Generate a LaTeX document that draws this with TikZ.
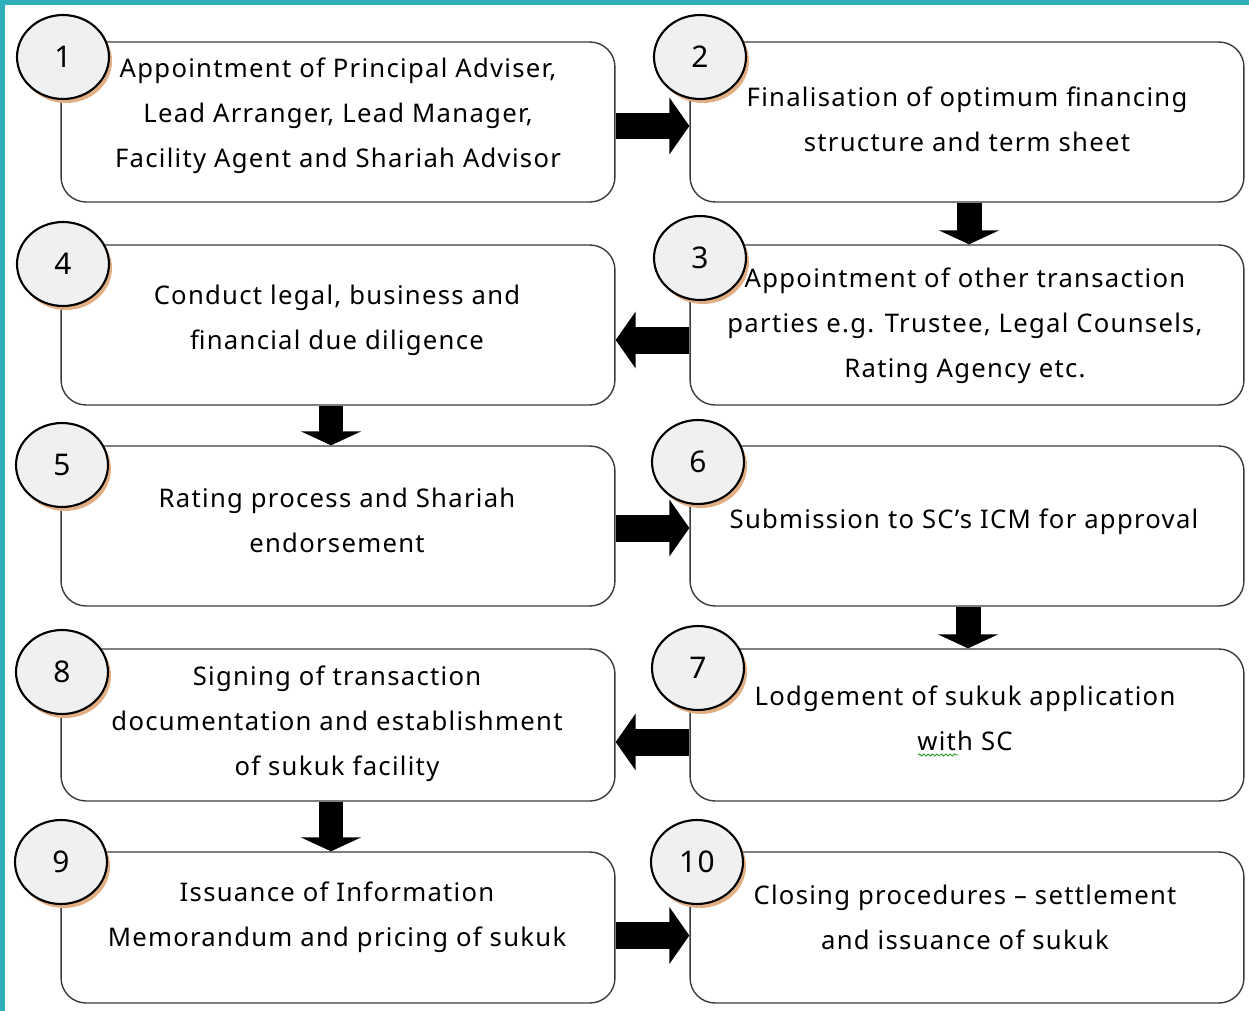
\documentclass[tikz,border=0pt]{standalone}
\usepackage{fontspec}
\setmainfont{Noto Sans}[LetterSpace=5]
\usepackage{tikz}
\usetikzlibrary{calc,arrows.meta,shapes.geometric,shadows,decorations.pathmorphing}
\definecolor{frameteal}{HTML}{2EB0BA}
\definecolor{shadowtan}{HTML}{E2AE84}
\definecolor{numfill}{HTML}{F0F0F0}
\definecolor{boxline}{HTML}{3A3A3A}

\begin{document}
\begin{tikzpicture}[x=0.02cm,y=-0.02cm,
    stepbox/.style={draw=boxline,line width=0.8pt,rounded corners=0.5cm,minimum width=11.08cm,minimum height=3.2cm,inner sep=0pt},
    steptext/.style={align=center,inner sep=0pt,font=\fontsize{14.6}{25.6}\selectfont},
    stepnum/.style={ellipse,draw,line width=1.2pt,fill=numfill,minimum width=1.84cm,minimum height=1.68cm,inner sep=0pt,
      font=\fontsize{17}{17}\selectfont,drop shadow={shadow xshift=0.06cm,shadow yshift=-0.08cm,fill=shadowtan,opacity=1}},
    rightarrow/.style={line width=0.54cm,-{Triangle[width=1.12cm,length=0.4cm]}},
    downarrow/.style={line width=0.5cm,-{Triangle[width=1.2cm,length=0.28cm]}}]
  \useasboundingbox (0,0) rectangle (1249,1011);
  % frame
  \fill[frameteal] (0,0) rectangle (1249,5);
  \fill[frameteal] (0,0) rectangle (5,1011);
  % boxes
  \node[stepbox] (b1) at (338,122) {};
  \node[stepbox] (b2) at (967,122) {};
  \node[stepbox] (b4) at (338,325) {};
  \node[stepbox] (b3) at (967,325) {};
  \node[stepbox] (b5) at (338,526) {};
  \node[stepbox] (b6) at (967,526) {};
  \node[stepbox,minimum height=3.04cm] (b8) at (338,725) {};
  \node[stepbox,minimum height=3.04cm] (b7) at (967,725) {};
  \node[stepbox,minimum height=3.02cm] (b9) at (338,927.5) {};
  \node[stepbox,minimum height=3.02cm] (b10) at (967,927.5) {};
  % texts
  \node[steptext] (t1) at (338,116) {Appointment of Principal Adviser,\\Lead Arranger, Lead Manager,\\Facility Agent and Shariah Advisor};
  \node[steptext] (t2) at (967,119) {Finalisation of optimum financing\\structure and term sheet};
  \node[steptext] (t3) at (965,326) {Appointment of other transaction\\parties e.g. Trustee, Legal Counsels,\\Rating Agency etc.};
  \node[steptext] (t4) at (337,320) {Conduct legal, business and\\financial due diligence};
  \node[steptext] (t5) at (337,520) {Rating process and Shariah\\endorsement};
  \node[steptext] (t6) at (964,522) {Submission to SC’s ICM for approval};
  \node[steptext] (t7) at (965,718) {Lodgement of sukuk application\\with SC};
  \node[steptext] (t8) at (337,724) {Signing of transaction\\documentation and establishment\\of sukuk facility};
  \node[steptext] (t9) at (337,917) {Issuance of Information\\Memorandum and pricing of sukuk};
  \node[steptext] (t10) at (965,917) {Closing procedures – settlement\\and issuance of sukuk};
  \draw[green!55!black,line width=0.4pt,decorate,decoration={snake,amplitude=0.6pt,segment length=2.5pt}] (918,755) -- (958,755);
  % arrows
  \draw[rightarrow] ($(b1.east)+(0,4)$) -- ($(b2.west)+(0,4)$);
  \draw[downarrow] ($(b2.south)+(2,0)$) -- ($(b3.north)+(2,0)$);
  \draw[rightarrow] ($(b3.west)+(0,15)$) -- ($(b4.east)+(0,15)$);
  \draw[downarrow] ($(b4.south)+(-7,0)$) -- ($(b5.north)+(-7,0)$);
  \draw[rightarrow] ($(b5.east)+(0,2)$) -- ($(b6.west)+(0,2)$);
  \draw[downarrow] ($(b6.south)+(1,0)$) -- ($(b7.north)+(1,0)$);
  \draw[rightarrow] ($(b7.west)+(0,17)$) -- ($(b8.east)+(0,17)$);
  \draw[downarrow] ($(b8.south)+(-7,0)$) -- ($(b9.north)+(-7,0)$);
  \draw[rightarrow] ($(b9.east)+(0,8)$) -- ($(b10.west)+(0,8)$);
  % numbers
  \node[stepnum] (n1) at (63,57) {1};
  \node[stepnum] (n2) at (700,57) {2};
  \node[stepnum] (n4) at (63,264) {4};
  \node[stepnum] (n3) at (700,258) {3};
  \node[stepnum] (n5) at (62,465) {5};
  \node[stepnum] (n6) at (698,462) {6};
  \node[stepnum] (n8) at (62,672) {8};
  \node[stepnum] (n7) at (698,668) {7};
  \node[stepnum] (n9) at (61,862) {9};
  \node[stepnum] (n10) at (697,862) {10};
\end{tikzpicture}
\end{document}
